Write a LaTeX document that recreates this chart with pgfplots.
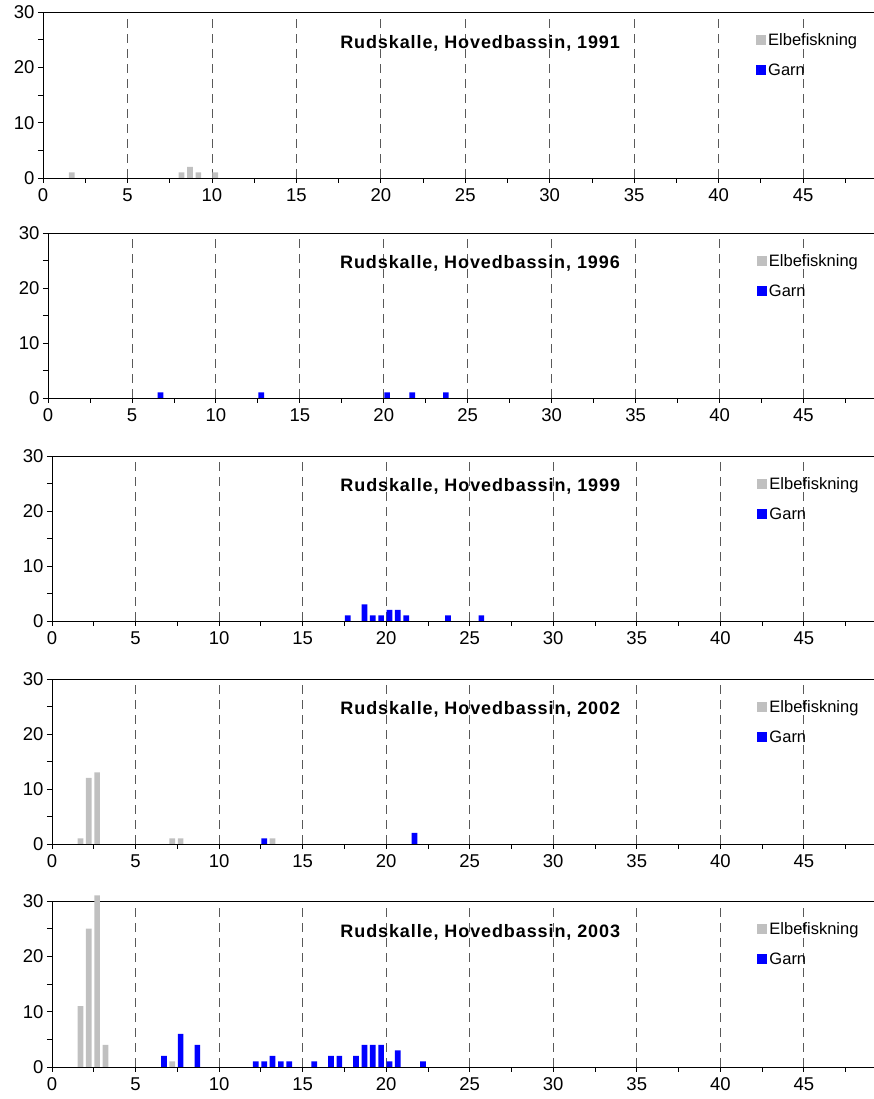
\documentclass[border=0pt]{standalone}
\usepackage{pgfplots}
\pgfplotsset{compat=1.18}
\usepackage{fontspec}
\setmainfont{Liberation Sans}
\definecolor{elgrey}{HTML}{C0C0C0}
\definecolor{garnblue}{HTML}{0000FF}
\pgfplotsset{
 panel/.style={
  scale only axis,
  xmin=0, xmax=49.2, ymin=0, ymax=30,
  axis y line*=left,
  xtick={0,5,...,45}, minor xtick={2.5,7.5,...,47.5},
  ytick={0,10,20,30}, minor ytick={5,15,25},
  tick align=outside, tick pos=left,
  major tick length=5pt, minor tick length=5pt,
  tick style={black, line width=0.8pt},
  xmajorgrids,
  grid style={black!65, dash pattern=on 9pt off 6pt, line width=0.8pt},
  axis line style={line width=0.9pt, black},
  ticklabel style={font=\fontsize{18.5}{20}\selectfont},
  xticklabel style={yshift=-2pt},
  /pgf/number format/assume math mode=true,
  legend style={draw=none, fill=none, at={(axis description cs:0.858,0.885)}, anchor=north west,
    font=\fontsize{16.5}{18}\selectfont, row sep=13pt, inner sep=0pt, cells={anchor=west}},
  legend image code/.code={\fill[##1] (0pt,-5pt) rectangle (10pt,5pt);},
  clip=false,
 },
 bars/.style={ybar, bar width=5.7pt, bar shift=0pt, draw=none, forget plot},
}
\newcommand{\paneltitle}[2]{\node[font=\bfseries\fontsize{18}{20}\selectfont\addfontfeature{LetterSpace=5}] at (axis description cs:#1,0.813) {#2};}
\newcommand{\panellegend}{%
  \addlegendimage{fill=elgrey, draw=none}\addlegendentry{Elbefiskning}
  \addlegendimage{fill=garnblue, draw=none}\addlegendentry{Garn}}
\begin{document}
\begin{tikzpicture}
\useasboundingbox (0pt,0pt) rectangle (874pt,1099pt);
% 1991
\begin{axis}[panel, at={(43pt,921pt)}, anchor=south west, width=831pt, height=166pt]
\panellegend
\addplot[bars, fill=elgrey] coordinates {(1.7,1) (8.2,1) (8.7,2) (9.2,1) (10.2,1)};
\paneltitle{0.526}{Rudskalle, Hovedbassin, 1991}
\end{axis}
% 1996
\begin{axis}[panel, at={(48pt,701pt)}, anchor=south west, width=826pt, height=165pt]
\panellegend
\addplot[bars, fill=garnblue] coordinates {(6.7,1) (12.7,1) (20.2,1) (21.7,1) (23.7,1)};
\paneltitle{0.523}{Rudskalle, Hovedbassin, 1996}
\end{axis}
% 1999
\begin{axis}[panel, at={(52pt,478pt)}, anchor=south west, width=822pt, height=165pt]
\panellegend
\addplot[bars, fill=garnblue] coordinates {(17.7,1) (18.7,3) (19.2,1) (19.7,1) (20.2,2) (20.7,2) (21.2,1) (23.7,1) (25.7,1)};
\paneltitle{0.521}{Rudskalle, Hovedbassin, 1999}
\end{axis}
% 2002
\begin{axis}[panel, at={(52pt,255pt)}, anchor=south west, width=822pt, height=165pt]
\panellegend
\addplot[bars, fill=elgrey] coordinates {(1.7,1) (2.2,12) (2.7,13) (7.2,1) (7.7,1) (13.2,1)};
\addplot[bars, fill=garnblue] coordinates {(12.7,1) (21.7,2)};
\paneltitle{0.521}{Rudskalle, Hovedbassin, 2002}
\end{axis}
% 2003
\begin{axis}[panel, at={(52pt,32pt)}, anchor=south west, width=822pt, height=166pt]
\panellegend
\addplot[bars, fill=elgrey] coordinates {(1.7,11) (2.2,25) (2.7,31) (3.2,4) (7.2,1)};
\addplot[bars, fill=garnblue] coordinates {(6.7,2) (7.7,6) (8.7,4) (12.2,1) (12.7,1) (13.2,2) (13.7,1) (14.2,1) (15.7,1) (16.7,2) (17.2,2) (18.2,2) (18.7,4) (19.2,4) (19.7,4) (20.2,1) (20.7,3) (22.2,1)};
\paneltitle{0.521}{Rudskalle, Hovedbassin, 2003}
\end{axis}
\end{tikzpicture}
\end{document}
